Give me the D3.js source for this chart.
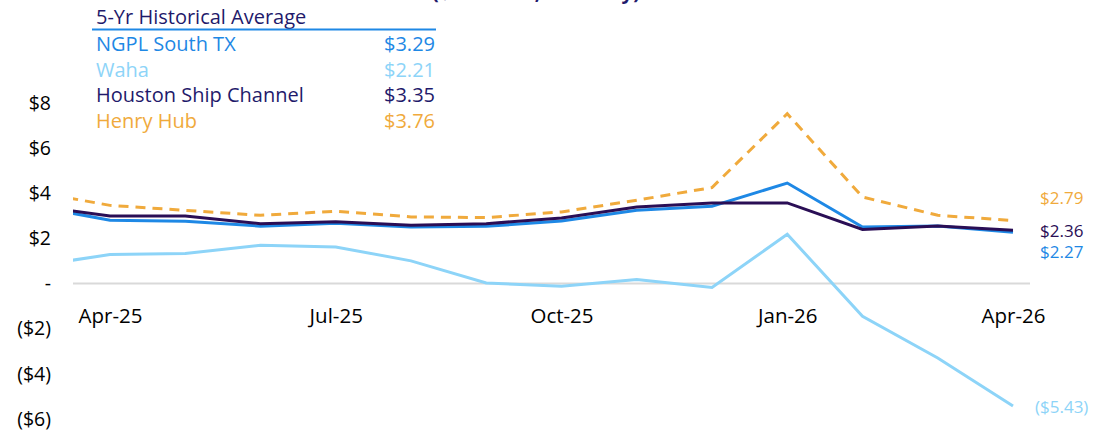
<!DOCTYPE html>
<html>
<head>
<meta charset="utf-8">
<script src="https://cdn.jsdelivr.net/npm/d3@7"></script>
<style>
  body { margin: 0; background: #fff; }
  svg { display: block; font-family: "Open Sans", "Noto Sans", sans-serif; }
</style>
</head>
<body>
<svg width="1094" height="431"></svg>
<script>
const width = 1094;
const height = 431;

// months, Mar-25 is only partly visible at the left edge
const months = ["Mar-25", "Apr-25", "May-25", "Jun-25", "Jul-25", "Aug-25", "Sep-25",
  "Oct-25", "Nov-25", "Dec-25", "Jan-26", "Feb-26", "Mar-26", "Apr-26"];
const tickMonths = ["Apr-25", "Jul-25", "Oct-25", "Jan-26", "Apr-26"];
const yTicks = [-6, -4, -2, 0, 2, 4, 6, 8];

const ngpl = [3.42, 2.80, 2.76, 2.54, 2.67, 2.50, 2.53, 2.77, 3.24, 3.42, 4.45, 2.50, 2.55, 2.27];
const waha = [0.78, 1.28, 1.33, 1.69, 1.62, 1.00, 0.02, -0.12, 0.18, -0.18, 2.18, -1.45, -3.30, -5.43];
const hsc = [3.43, 2.99, 2.99, 2.65, 2.73, 2.58, 2.65, 2.90, 3.39, 3.57, 3.57, 2.39, 2.55, 2.36];
const henry = [4.06, 3.46, 3.24, 3.02, 3.20, 2.95, 2.92, 3.17, 3.69, 4.25, 7.52, 3.83, 3.02, 2.79];

const legendNames = ["NGPL South TX", "Waha", "Houston Ship Channel", "Henry Hub"];
const avgValues = [3.29, 2.21, 3.35, 3.76];

const series = [
  { name: "Waha", values: waha, color: "#8dd4f8", text: "#8dd4f8", dy: 1 },
  { name: "NGPL South TX", values: ngpl, color: "#1e88e5", text: "#1e88e5", dy: 20 },
  { name: "Houston Ship Channel", values: hsc, color: "#2a0e55", text: "#2a0e55", dy: 1 },
  { name: "Henry Hub", values: henry, color: "#f0aa3c", text: "#f0aa3c", dy: -22, dash: "10,7" }
];
const legendColors = ["#1e88e5", "#8dd4f8", "#1f1a6b", "#f0aa3c"];

const svg = d3.select("svg");

const x = d3.scaleLinear().domain([1, 13]).range([110, 1013]);
const y = d3.scaleLinear().domain([-6, 8]).range([418.9, 102.9]);

const fmt = v => v === 0 ? "-" : v < 0 ? "($" + Math.abs(v) + ")" : "$" + v;
const fmt2 = v => v < 0 ? "($" + Math.abs(v).toFixed(2) + ")" : "$" + v.toFixed(2);

// title, mostly cut off at the top
svg.append("text")
  .attr("x", 432).attr("y", -1)
  .attr("textLength", 208).attr("lengthAdjust", "spacing")
  .attr("font-size", 20).attr("font-weight", "bold").attr("fill", "#1f1a6b")
  .text("($/MMBtu, Monthly)");

svg.append("defs").append("clipPath").attr("id", "plot")
  .append("rect").attr("x", 73).attr("y", 0).attr("width", width - 73).attr("height", height);

// zero line
svg.append("line")
  .attr("x1", 73).attr("x2", 1030)
  .attr("y1", y(0)).attr("y2", y(0))
  .attr("stroke", "#d9d9d9").attr("stroke-width", 2);

// y axis
const yAxis = svg.append("g")
  .attr("transform", "translate(51,0)")
  .call(d3.axisLeft(y).tickValues(yTicks).tickSize(0).tickPadding(0).tickFormat(fmt));
yAxis.select(".domain").remove();
yAxis.selectAll("text").attr("font-size", 19.5).attr("fill", "#000")
  .style("font-family", "'Open Sans', sans-serif");

// x axis
const xAxis = svg.append("g")
  .attr("transform", `translate(0,${y(0)})`)
  .call(d3.axisBottom(x).tickValues(tickMonths.map(m => months.indexOf(m)))
    .tickSize(0).tickFormat(i => months[i]));
xAxis.select(".domain").remove();
xAxis.selectAll("text").attr("font-size", 20.5).attr("fill", "#000")
  .attr("y", 40).attr("dy", 0)
  .style("font-family", "'Open Sans', sans-serif");

const line = d3.line().x((d, i) => x(i)).y(d => y(d));

const lines = svg.append("g").attr("clip-path", "url(#plot)");
series.forEach(s => {
  lines.append("path")
    .attr("d", line(s.values))
    .attr("fill", "none")
    .attr("stroke", s.color)
    .attr("stroke-width", 3)
    .attr("stroke-dasharray", s.dash || null);
});

// end labels
series.forEach(s => {
  const last = s.values[s.values.length - 1];
  svg.append("text")
    .attr("x", s.name === "Waha" ? 1035 : 1040)
    .attr("y", y(last) + s.dy)
    .attr("dy", "0.35em")
    .attr("font-size", 17)
    .attr("fill", s.text)
    .text(fmt2(last));
});

// historical average table
const legend = svg.append("g");
legend.append("text")
  .attr("x", 96).attr("y", 24)
  .attr("font-size", 20).attr("fill", "#1f1a6b")
  .text("5-Yr Historical Average");
legend.append("line")
  .attr("x1", 92).attr("x2", 436).attr("y1", 29.5).attr("y2", 29.5)
  .attr("stroke", "#1e88e5").attr("stroke-width", 2);

legendNames.forEach((n, i) => {
  const ry = 44 + i * 25.7;
  legend.append("text")
    .attr("x", 96).attr("y", ry).attr("dy", "0.35em")
    .attr("font-size", 20).attr("fill", legendColors[i])
    .text(n);
  legend.append("text")
    .attr("x", 435).attr("y", ry).attr("dy", "0.35em")
    .attr("text-anchor", "end")
    .attr("font-size", 20).attr("fill", legendColors[i])
    .text(fmt2(avgValues[i]));
});
</script>
</body>
</html>
